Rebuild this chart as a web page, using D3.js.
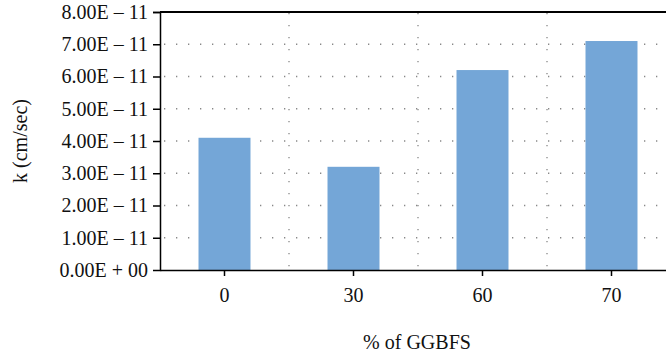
<!DOCTYPE html>
<html>
<head>
<meta charset="utf-8">
<script src="https://cdn.jsdelivr.net/npm/d3@7"></script>
<style>
  body { margin: 0; background: #fff; }
  svg { display: block; }
</style>
</head>
<body>
<svg id="chart"></svg>
<script>
// data
const categories = ['0', '30', '60', '70'];
const values = [4.1e-11, 3.2e-11, 6.2e-11, 7.1e-11];
const yTicks = [0, 1e-11, 2e-11, 3e-11, 4e-11, 5e-11, 6e-11, 7e-11, 8e-11];
const yTickLabels = ['0.00E + 00', '1.00E \u2013 11', '2.00E \u2013 11', '3.00E \u2013 11',
  '4.00E \u2013 11', '5.00E \u2013 11', '6.00E \u2013 11', '7.00E \u2013 11', '8.00E \u2013 11'];

const width = 666;
const height = 358;
const plotLeft = 160, plotTop = 12, plotBottom = 270;
const font = '"Liberation Serif", "DejaVu Serif", serif';
const fs = 20;

const svg = d3.select('#chart')
  .attr('width', width)
  .attr('height', height);

const x = d3.scaleBand()
  .domain(categories)
  .range([plotLeft, plotLeft + 4 * 129])
  .padding(0);

const y = d3.scaleLinear()
  .domain([0, 8e-11])
  .range([plotBottom, plotTop]);

// horizontal dotted grid
svg.append('g')
  .selectAll('line')
  .data(yTicks.slice(1, -1))
  .enter()
  .append('line')
  .attr('x1', plotLeft + 4)
  .attr('x2', width)
  .attr('y1', d => y(d))
  .attr('y2', d => y(d))
  .attr('stroke', '#888')
  .attr('stroke-width', 1.3)
  .attr('stroke-dasharray', '1.3 10.7');

// vertical dotted grid at category boundaries
svg.append('g')
  .selectAll('line')
  .data(categories.slice(1))
  .enter()
  .append('line')
  .attr('x1', d => x(d))
  .attr('x2', d => x(d))
  .attr('y1', plotTop + 1)
  .attr('y2', plotBottom)
  .attr('stroke', '#888')
  .attr('stroke-width', 1.3)
  .attr('stroke-dasharray', '1.3 10.7');

// bars
const barW = x.bandwidth() * 0.403;
svg.append('g')
  .selectAll('rect')
  .data(values)
  .enter()
  .append('rect')
  .attr('x', (d, i) => x(categories[i]) + x.bandwidth() / 2 - barW / 2)
  .attr('y', d => y(d))
  .attr('width', barW)
  .attr('height', d => plotBottom - y(d))
  .attr('fill', '#74a6d7');

// top border
svg.append('line')
  .attr('x1', plotLeft)
  .attr('x2', width)
  .attr('y1', plotTop)
  .attr('y2', plotTop)
  .attr('stroke', '#000')
  .attr('stroke-width', 2);

// y axis
const yAxis = svg.append('g')
  .attr('transform', `translate(${plotLeft},0)`)
  .call(d3.axisLeft(y)
    .tickValues(yTicks)
    .tickSize(7)
    .tickPadding(5)
    .tickFormat((d, i) => yTickLabels[i]));
yAxis.select('.domain').attr('stroke-width', 1.5);
yAxis.selectAll('.tick line').attr('stroke-width', 1.5);
yAxis.selectAll('.tick text')
  .attr('font-family', font)
  .attr('font-size', fs)
  .attr('fill', '#111');
yAxis.selectAll('.tick').filter(d => d === 0).select('line').remove();

// x axis
const xAxis = svg.append('g')
  .attr('transform', `translate(0,${plotBottom})`)
  .call(d3.axisBottom(x)
    .tickSize(6)
    .tickSizeOuter(0)
    .tickPadding(12));
xAxis.select('.domain').attr('stroke-width', 1.5);
xAxis.selectAll('.tick line').attr('stroke-width', 1.5);
xAxis.selectAll('.tick text')
  .attr('font-family', font)
  .attr('font-size', fs)
  .attr('fill', '#111');

// axis titles
svg.append('text')
  .attr('x', 417)
  .attr('y', 349)
  .attr('text-anchor', 'middle')
  .attr('font-family', font)
  .attr('font-size', fs)
  .attr('fill', '#111')
  .text('% of GGBFS');

svg.append('text')
  .attr('transform', 'translate(27,141) rotate(-90)')
  .attr('text-anchor', 'middle')
  .attr('font-family', font)
  .attr('font-size', fs)
  .attr('fill', '#111')
  .text('k (cm/sec)');
</script>
</body>
</html>
